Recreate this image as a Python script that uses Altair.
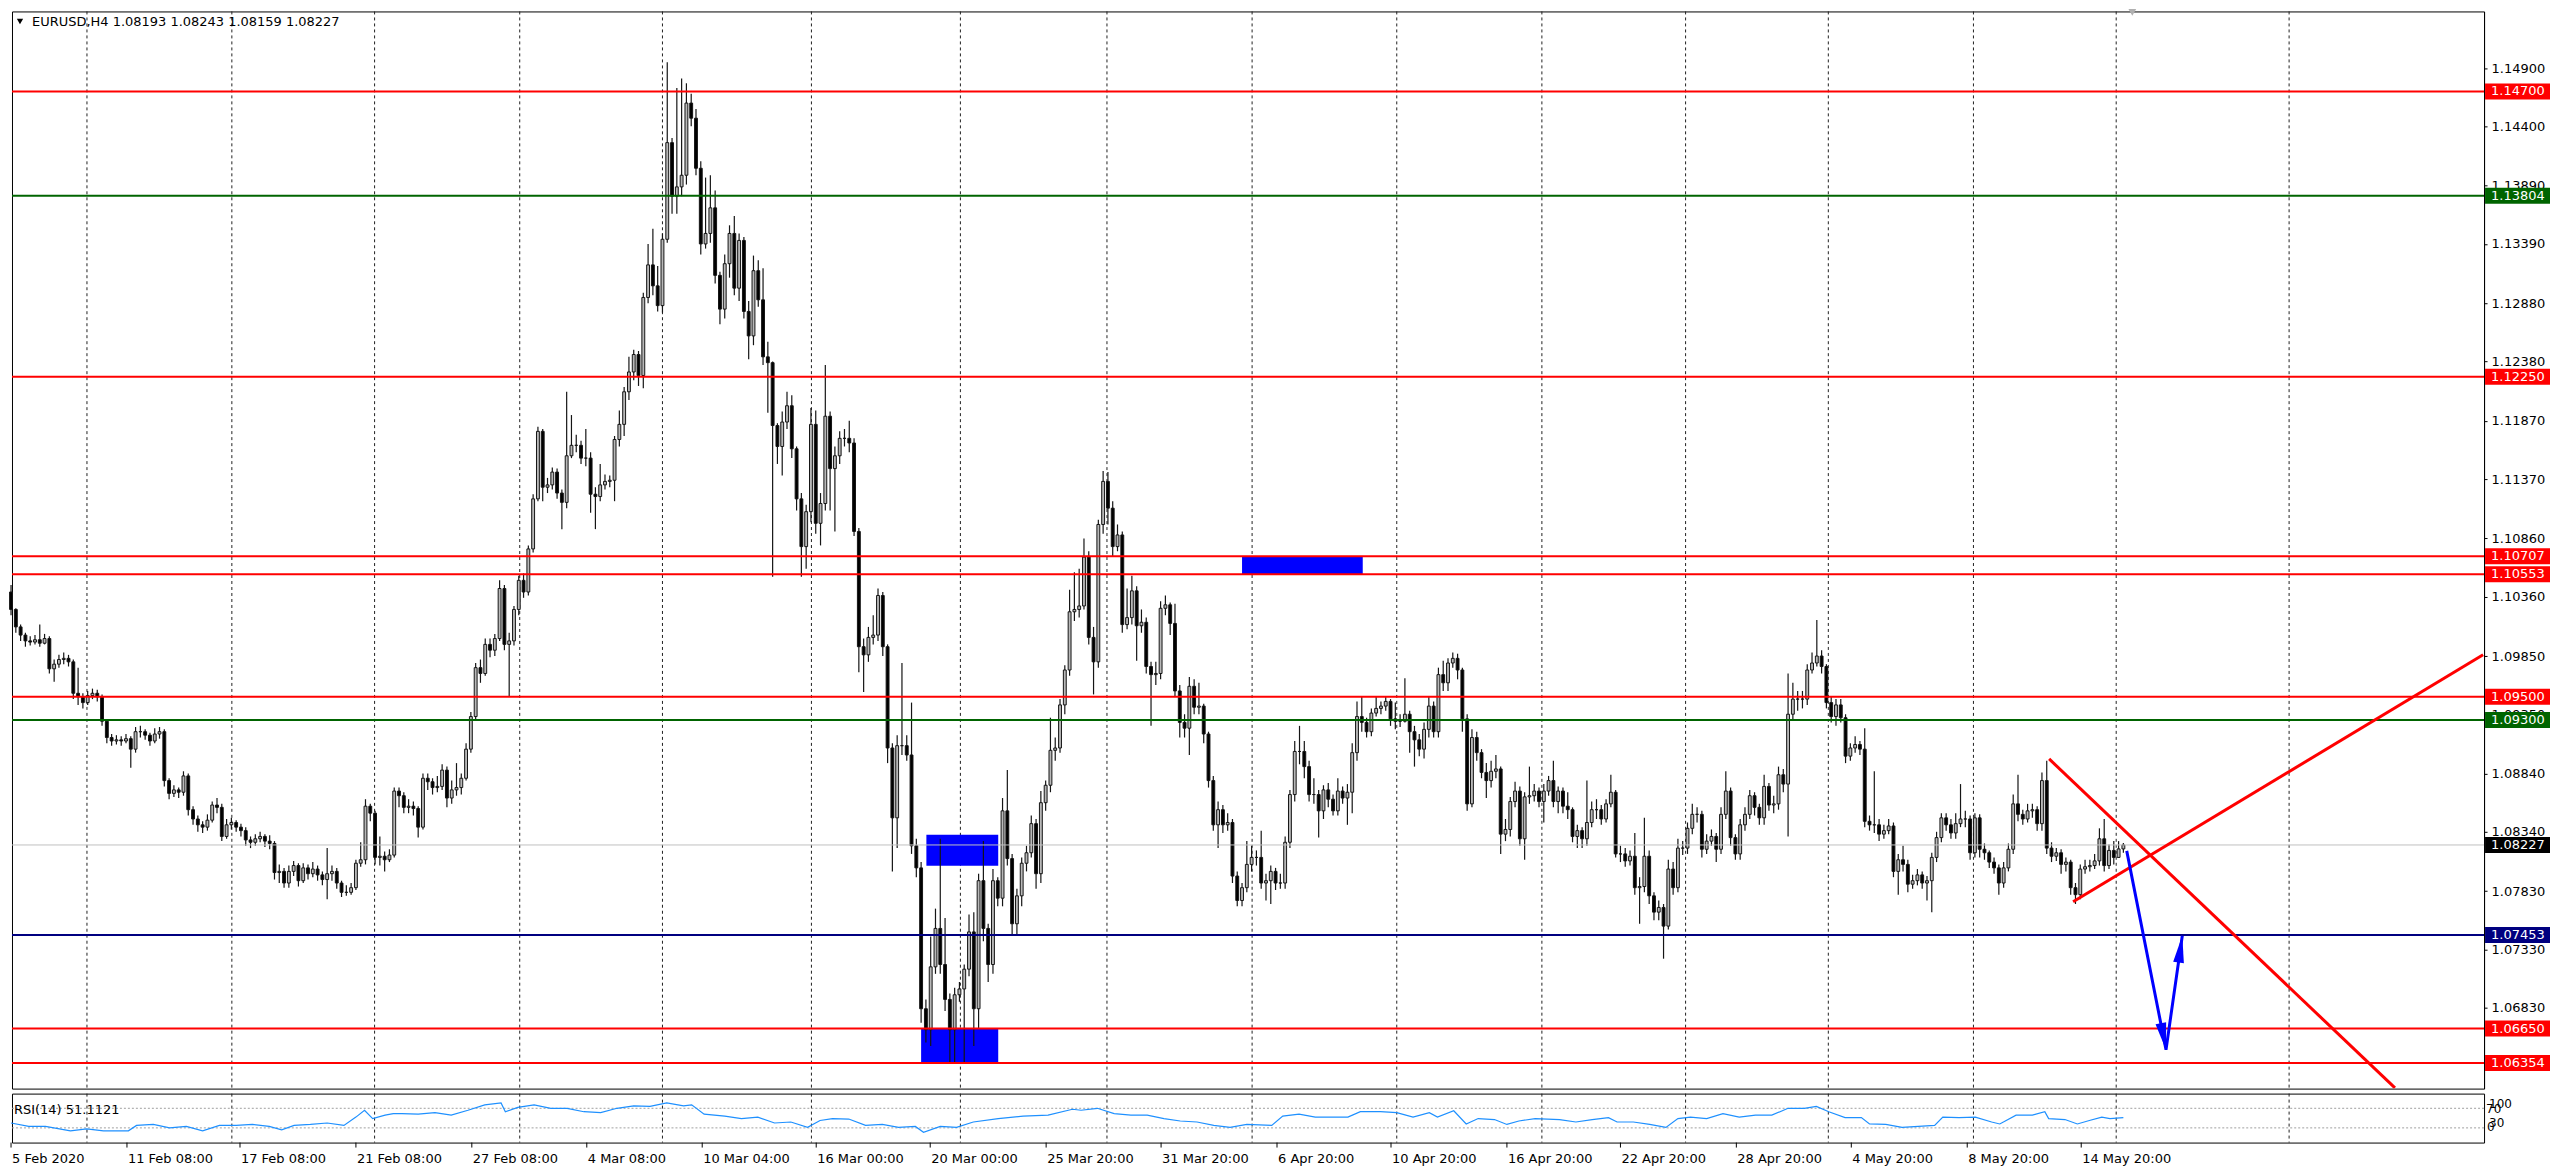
import altair as alt
import pandas as pd

FONT = "DejaVu Sans"
SYMBOL = "EURUSD"
TIMEFRAME = "H4"

# ---------------- data (prices in 1/10000 units, H4 bars) ----------------
first_open = 11040
closes = [
    11025, 11010, 11003, 10998, 10997, 10999, 10996, 11000, 10974, 10978,
    10982, 10983, 10980, 10953, 10950, 10945, 10951, 10953, 10950, 10929,
    10915, 10912, 10913, 10912, 10914, 10905, 10920, 10920, 10917, 10912,
    10918, 10920, 10878, 10867, 10870, 10868, 10882, 10853, 10845, 10840,
    10838, 10844, 10857, 10855, 10830, 10840, 10842, 10838, 10835, 10827,
    10825, 10828, 10830, 10826, 10824, 10799, 10800, 10790, 10800, 10805,
    10792, 10803, 10798, 10802, 10797, 10793, 10798, 10800, 10790, 10782,
    10782, 10786, 10807, 10810, 10856, 10850, 10812, 10813, 10810, 10814,
    10869, 10865, 10855, 10856, 10854, 10838, 10880, 10877, 10872, 10873,
    10887, 10863, 10870, 10872, 10880, 10905, 10933, 10975, 10970, 10995,
    10990, 11000, 11043, 10995, 10998, 11025, 11050, 11040, 11077, 11120,
    11178, 11130, 11132, 11143, 11125, 11117, 11157, 11166, 11166, 11155,
    11155, 11124, 11122, 11132, 11135, 11136, 11171, 11184, 11212, 11229,
    11244, 11226, 11293, 11321, 11303, 11286, 11343, 11426, 11380, 11388,
    11398, 11460, 11447, 11404, 11339, 11348, 11370, 11312, 11283, 11322,
    11348, 11301, 11342, 11281, 11260, 11316, 11291, 11242, 11237, 11183,
    11165, 11186, 11200, 11163, 11120, 11079, 11109, 11184, 11099, 11116,
    11191, 11146, 11157, 11172, 11172, 11168, 11092, 10993, 10986, 11001,
    11003, 11037, 10993, 10906, 10846, 10908, 10908, 10900, 10822, 10803,
    10682, 10664, 10718, 10751, 10720, 10690, 10664, 10694, 10699, 10716,
    10748, 10682, 10792, 10751, 10720, 10792, 10777, 10852, 10811, 10755,
    10779, 10807, 10816, 10841, 10798, 10859, 10874, 10904, 10906, 10943,
    10973, 11023, 11025, 11028, 11070, 11001, 10980, 11098, 11135, 11112,
    11079, 11089, 11012, 11018, 11041, 11011, 11014, 10976, 10969, 10970,
    11026, 11029, 11013, 10955, 10928, 10923, 10959, 10941, 10942, 10918,
    10878, 10840, 10853, 10840, 10842, 10796, 10775, 10786, 10806, 10812,
    10812, 10790, 10792, 10800, 10790, 10790, 10825, 10866, 10903, 10903,
    10890, 10866, 10866, 10852, 10870, 10862, 10852, 10869, 10863, 10868,
    10902, 10933, 10928, 10920, 10936, 10940, 10942, 10946, 10931, 10929,
    10929, 10935, 10920, 10913, 10905, 10922, 10942, 10920, 10969, 10962,
    10979, 10983, 10973, 10931, 10858, 10915, 10902, 10885, 10878, 10886,
    10888, 10832, 10836, 10860, 10869, 10828, 10864, 10865, 10869, 10860,
    10869, 10878, 10860, 10869, 10856, 10853, 10830, 10835, 10828, 10842,
    10853, 10853, 10845, 10858, 10868, 10815, 10815, 10809, 10813, 10786,
    10787, 10813, 10779, 10765, 10769, 10753, 10802, 10786, 10820, 10820,
    10837, 10849, 10849, 10819, 10826, 10830, 10819, 10849, 10869, 10829,
    10815, 10840, 10849, 10865, 10855, 10846, 10873, 10857, 10858, 10883,
    10875, 10935, 10948, 10948, 10948, 10973, 10979, 10985, 10976, 10945,
    10933, 10943, 10932, 10899, 10906, 10909, 10905, 10843, 10840, 10840,
    10832, 10835, 10839, 10800, 10810, 10806, 10789, 10792, 10797, 10790,
    10792, 10812, 10829, 10846, 10840, 10833, 10841, 10845, 10845, 10816,
    10846, 10819, 10816, 10808, 10803, 10790, 10803, 10819, 10858, 10849,
    10845, 10852, 10853, 10841, 10878, 10820, 10813, 10816, 10806, 10808,
    10786, 10780, 10802, 10804, 10805, 10809, 10828, 10805, 10818, 10812,
    10819.3, 10822.7,
]
highs = [
    11046, 11026, 11012, 11005, 11002, 11003, 11012, 11004, 11002, 10982,
    10986, 10988, 10986, 10982, 10975, 10953, 10955, 10957, 10956, 10952,
    10930, 10918, 10917, 10916, 10918, 10916, 10924, 10925, 10922, 10919,
    10923, 10924, 10922, 10880, 10874, 10872, 10886, 10884, 10856, 10848,
    10843, 10849, 10860, 10863, 10858, 10845, 10846, 10844, 10841, 10838,
    10830, 10832, 10834, 10832, 10831, 10826, 10806, 10803, 10805, 10809,
    10807, 10807, 10806, 10808, 10805, 10800, 10820, 10805, 10803, 10792,
    10788, 10790, 10810, 10825, 10862, 10858, 10852, 10830, 10817, 10819,
    10872, 10872, 10868, 10862, 10860, 10856, 10884, 10884, 10880, 10882,
    10892, 10890, 10878, 10893, 10884, 10910, 10937, 10979, 10982, 11000,
    11000, 11004, 11050, 11046, 11005, 11028, 11054, 11056, 11080, 11124,
    11182, 11180, 11138, 11147, 11146, 11128, 11212, 11192, 11175, 11170,
    11180, 11160, 11130, 11150, 11141, 11140, 11174, 11196, 11216, 11242,
    11248, 11247, 11297, 11339, 11352, 11320, 11348, 11495, 11430, 11473,
    11481, 11477, 11468, 11455, 11410, 11396, 11398, 11385, 11315, 11330,
    11355, 11363, 11348, 11345, 11290, 11329, 11325, 11318, 11255, 11238,
    11185, 11195, 11212, 11209, 11165, 11125, 11115, 11198, 11196, 11125,
    11235, 11195, 11165, 11178, 11180, 11187, 11172, 11095, 11000, 11010,
    11020, 11043, 11040, 10995, 10910, 10917, 10979, 10917, 10945, 10828,
    10808, 10690, 10744, 10768, 10828, 10760, 10695, 10700, 10705, 10720,
    10763, 10765, 10798, 10826, 10755, 10802, 10795, 10863, 10887, 10815,
    10785, 10812, 10822, 10848, 10845, 10869, 10878, 10932, 10915, 10948,
    10977, 11042, 11057, 11060, 11086, 11075, 11010, 11102, 11144, 11143,
    11118, 11098, 11092, 11043, 11054, 11045, 11025, 11018, 10980, 10980,
    11032, 11037, 11031, 11030, 10960, 10935, 10967, 10965, 10962, 10944,
    10920, 10882, 10860, 10857, 10850, 10845, 10800, 10790, 10826, 10822,
    10818, 10835, 10798, 10805, 10803, 10798, 10830, 10870, 10912, 10925,
    10912, 10895, 10880, 10870, 10874, 10876, 10866, 10880, 10873, 10875,
    10910, 10946, 10950, 10932, 10940, 10950, 10946, 10950, 10948, 10945,
    10935, 10966, 10938, 10925, 10918, 10928, 10950, 10946, 10975, 10981,
    10983, 10988, 10987, 10975, 10935, 10922, 10920, 10905, 10893, 10895,
    10900, 10890, 10845, 10864, 10877, 10873, 10868, 10890, 10875, 10872,
    10875, 10882, 10895, 10873, 10872, 10868, 10855, 10840, 10838, 10878,
    10860, 10862, 10857, 10862, 10883, 10870, 10822, 10820, 10818, 10833,
    10795, 10846, 10818, 10782, 10775, 10772, 10810, 10808, 10828, 10826,
    10842, 10858, 10855, 10852, 10832, 10836, 10833, 10855, 10886, 10872,
    10832, 10845, 10855, 10870, 10868, 10858, 10883, 10876, 10865, 10890,
    10888, 10970, 10962, 10955, 10955, 10978, 10988, 11016, 10990, 10978,
    10950, 10948, 10948, 10935, 10910, 10916, 10912, 10923, 10848, 10886,
    10845, 10840, 10845, 10842, 10815, 10822, 10810, 10797, 10802, 10800,
    10796, 10816, 10834, 10850, 10850, 10845, 10850, 10875, 10852, 10848,
    10850, 10849, 10824, 10818, 10812, 10806, 10808, 10824, 10866, 10883,
    10853, 10858, 10858, 10856, 10885, 10895, 10825, 10820, 10819, 10812,
    10810, 10790, 10806, 10810, 10810, 10815, 10837, 10845, 10823, 10826,
    10826, 10824.3,
]
lows = [
    11020, 11005, 10998, 10993, 10994, 10995, 10993, 10995, 10970, 10963,
    10975, 10978, 10976, 10948, 10943, 10940, 10943, 10948, 10946, 10925,
    10910, 10908, 10909, 10908, 10910, 10889, 10902, 10915, 10913, 10908,
    10910, 10914, 10873, 10862, 10864, 10863, 10865, 10848, 10840, 10834,
    10833, 10835, 10842, 10850, 10826, 10828, 10836, 10834, 10830, 10822,
    10820, 10822, 10825, 10821, 10819, 10793, 10790, 10786, 10786, 10796,
    10787, 10790, 10793, 10795, 10792, 10788, 10776, 10792, 10785, 10778,
    10779, 10780, 10784, 10804, 10806, 10843, 10806, 10805, 10800, 10808,
    10812, 10855, 10850, 10850, 10848, 10829, 10836, 10870, 10866, 10868,
    10870, 10855, 10858, 10865, 10866, 10878, 10902, 10930, 10962, 10968,
    10984, 10985, 10998, 10990, 10950, 10994, 11020, 11035, 11037, 11074,
    11118, 11118, 11125, 11128, 11120, 11094, 11112, 11155, 11160, 11150,
    11148, 11108, 11094, 11118, 11128, 11130, 11118, 11165, 11174, 11205,
    11222, 11217, 11215, 11288, 11295, 11281, 11280, 11340, 11365, 11365,
    11380, 11390, 11440, 11398, 11330, 11335, 11340, 11305, 11270, 11275,
    11310, 11295, 11290, 11275, 11240, 11252, 11285, 11235, 11194, 11053,
    11150, 11140, 11180, 11155, 11110, 11053, 11060, 11100, 11090, 11080,
    11110, 11110, 11092, 11150, 11165, 11160, 11088, 10971, 10954, 10980,
    10995, 10998, 10985, 10893, 10800, 10820, 10900, 10895, 10815, 10795,
    10670, 10653, 10650, 10712, 10712, 10680, 10636, 10636, 10688, 10636,
    10710, 10650, 10665, 10740, 10705, 10712, 10770, 10770, 10805, 10745,
    10746, 10770, 10800, 10812, 10785, 10790, 10852, 10868, 10895, 10902,
    10935, 10968, 11015, 11018, 11025, 10995, 10952, 10975, 11090, 11098,
    11070, 11075, 11005, 11008, 11012, 10981, 11005, 10970, 10925, 10960,
    10965, 11020, 11003, 10950, 10915, 10915, 10900, 10935, 10935, 10910,
    10872, 10835, 10820, 10833, 10835, 10790, 10770, 10770, 10782, 10800,
    10805, 10785, 10775, 10772, 10784, 10785, 10785, 10820, 10860, 10892,
    10880, 10860, 10858, 10829, 10845, 10855, 10848, 10848, 10858, 10840,
    10850, 10895, 10920, 10915, 10916, 10933, 10935, 10938, 10925, 10922,
    10924, 10928, 10902, 10890, 10899, 10897, 10915, 10915, 10915, 10955,
    10955, 10975, 10965, 10920, 10852, 10855, 10895, 10880, 10863, 10872,
    10880, 10815, 10826, 10830, 10855, 10822, 10810, 10858, 10860, 10855,
    10842, 10865, 10855, 10850, 10850, 10845, 10825, 10820, 10820, 10822,
    10838, 10845, 10840, 10842, 10855, 10812, 10808, 10804, 10805, 10780,
    10755, 10782, 10772, 10758, 10758, 10725, 10750, 10780, 10782, 10814,
    10815, 10832, 10842, 10812, 10815, 10822, 10808, 10815, 10845, 10822,
    10810, 10810, 10835, 10845, 10848, 10840, 10840, 10852, 10850, 10853,
    10868, 10830, 10930, 10938, 10940, 10943, 10970, 10976, 10970, 10940,
    10928, 10925, 10928, 10893, 10895, 10902, 10900, 10838, 10835, 10833,
    10826, 10828, 10832, 10795, 10780, 10800, 10782, 10785, 10788, 10785,
    10775, 10765, 10808, 10825, 10835, 10828, 10828, 10838, 10838, 10810,
    10812, 10812, 10810, 10803, 10798, 10780, 10786, 10800, 10815, 10843,
    10840, 10842, 10846, 10835, 10835, 10815, 10808, 10809, 10798, 10800,
    10780, 10772, 10776, 10798, 10800, 10802, 10805, 10800, 10802, 10806,
    10812, 10815.9,
]

# price axis ticks (as printed by the terminal)
tick_values = [1.14900, 1.14400, 1.13890, 1.13390, 1.12880, 1.12380, 1.11870,
               1.11370, 1.10860, 1.10360, 1.09850, 1.09350, 1.08840, 1.08340,
               1.07830, 1.07330, 1.06830]

# horizontal levels
level_prices = [1.14700, 1.13804, 1.12250, 1.10707, 1.10553, 1.09500,
                1.09300, 1.08227, 1.07453, 1.06650, 1.06354]
level_colors = ["#FF0000", "#006400", "#FF0000", "#FF0000", "#FF0000", "#FF0000",
                "#006400", "#C0C0C0", "#000080", "#FF0000", "#FF0000"]
level_widths = [2, 2, 2, 2, 2, 2, 2, 1, 2, 2, 2]
level_box_colors = ["#FF0000", "#006400", "#FF0000", "#FF0000", "#FF0000", "#FF0000",
                    "#006400", "#000000", "#000080", "#FF0000", "#FF0000"]

# blue zones (bar index range, price range)
zone_i1 = [257.0, 191.1, 190.0]
zone_i2 = [282.2, 206.1, 206.1]
zone_p1 = [1.10553, 1.08048, 1.06354]
zone_p2 = [1.10707, 1.08314, 1.06650]

# red trend lines
trend_seg = ["down", "down", "up", "up"]
trend_i = [425.5, 497.7, 430.5, 516.1]
trend_p = [1.08966, 1.06140, 1.07739, 1.09861]

# blue forecast arrow
arrow_i = [441.7, 449.9, 453.3]
arrow_p = [1.08176, 1.06468, 1.07447]

# vertical grid (bar index) and time labels
grid_idx = [15.85, 46.1, 75.9, 106.2, 136.0, 167.1, 198.2, 228.8, 259.1,
            289.3, 319.6, 349.6, 379.4, 409.7, 439.5, 475.6]
time_label_idx = [0, 24.2, 47.8, 72.0, 96.2, 120.2, 144.3, 168.1, 191.9, 216.1,
                  240.1, 264.3, 288.1, 312.3, 336.0, 360.2, 384.2, 408.4, 432.2]
time_labels = ["5 Feb 2020", "11 Feb 08:00", "17 Feb 08:00", "21 Feb 08:00",
               "27 Feb 08:00", "4 Mar 08:00", "10 Mar 04:00", "16 Mar 00:00",
               "20 Mar 00:00", "25 Mar 20:00", "31 Mar 20:00", "6 Apr 20:00",
               "10 Apr 20:00", "16 Apr 20:00", "22 Apr 20:00", "28 Apr 20:00",
               "4 May 20:00", "8 May 20:00", "14 May 20:00"]

# RSI(14)
rsi_idx = [0, 3.7, 7.2, 12.4, 15.8, 19.3, 24.5, 26.2, 29.7, 33.1,
           36.6, 40.0, 43.5, 47.0, 50.4, 53.9, 56.5, 59.1, 62.5, 66.0,
           69.5, 72.0, 73.8, 75.5, 78.1, 79.8, 81.6, 85.0, 88.5, 91.9,
           95.4, 98.9, 102.3, 103.2, 105.8, 109.2, 112.7, 116.1, 119.6, 123.1,
           126.5, 130.0, 133.4, 136.9, 140.4, 142.1, 144.7, 149.0, 152.5, 155.9,
           159.4, 162.8, 166.3, 168.9, 171.5, 174.9, 178.4, 181.9, 185.3, 188.8,
           190.5, 194.0, 197.4, 200.9, 206.1, 211.3, 216.5, 221.6, 223.4, 226.8,
           230.3, 233.8, 237.2, 240.7, 244.1, 247.6, 251.1, 254.5, 258.0, 263.2,
           265.5, 268.9, 272.3, 275.7, 279.1, 281.7, 285.9, 289.3, 292.7, 296.1,
           297.8, 301.2, 303.8, 306.3, 309.7, 312.3, 314.8, 318.2, 323.3, 326.7,
           330.1, 333.5, 335.3, 338.7, 342.1, 345.5, 348.0, 350.6, 354.0, 357.4,
           360.8, 364.2, 367.6, 371.0, 374.4, 376.9, 379.5, 382.9, 386.3, 388.0,
           391.4, 394.8, 398.2, 401.6, 403.3, 406.7, 410.1, 413.5, 415.2, 418.6,
           422.0, 424.6, 425.4, 428.8, 431.4, 433.9, 436.5, 438.2, 441.0]
rsi_val = [40, 33, 33, 24, 28, 24, 24, 35, 37, 30,
           33, 24, 35, 35, 37, 33, 26, 35, 37, 40,
           35, 52, 66, 49, 56, 59, 59, 58, 61, 56,
           66, 77, 81, 63, 72, 77, 70, 70, 63, 61,
           70, 75, 74, 81, 75, 77, 58, 54, 49, 52,
           40, 42, 31, 45, 49, 48, 35, 37, 31, 33,
           21, 33, 31, 42, 49, 54, 56, 68, 66, 70,
           59, 56, 56, 49, 44, 42, 35, 31, 37, 35,
           54, 58, 52, 52, 52, 63, 63, 61, 52, 61,
           52, 65, 38, 49, 47, 37, 44, 49, 47, 42,
           47, 51, 42, 42, 37, 31, 49, 52, 49, 59,
           52, 56, 56, 70, 70, 74, 63, 51, 51, 38,
           37, 31, 33, 35, 52, 51, 52, 42, 38, 56,
           56, 63, 49, 47, 38, 45, 52, 49, 51.1121]
rsi_levels = [70, 30]

# ---------------- tables ----------------
n = len(closes)
opens = [first_open] + closes[:-1]  # each bar opens at the previous close
candles = pd.DataFrame({
    "i": list(range(n)),
    "o": [v / 10000 for v in opens],
    "h": [v / 10000 for v in highs],
    "l": [v / 10000 for v in lows],
    "c": [v / 10000 for v in closes],
})
levels = pd.DataFrame({"p": level_prices, "col": level_colors, "w": level_widths,
                       "bc": level_box_colors,
                       "lbl": [f"{p:.5f}" for p in level_prices]})
zones = pd.DataFrame({"x1": zone_i1, "x2": zone_i2, "p1": zone_p1, "p2": zone_p2})
trends = pd.DataFrame({"seg": trend_seg, "i": trend_i, "p": trend_p})
arrow = pd.DataFrame({"k": [0, 1, 2], "i": arrow_i, "p": arrow_p})
grid = pd.DataFrame({"g": grid_idx})
tl = pd.DataFrame({"i": time_label_idx, "t": time_labels})
rsi = pd.DataFrame({"i": rsi_idx, "v": rsi_val})

last_o, last_h, last_l, last_c = opens[-1] / 1e4, highs[-1] / 1e4, lows[-1] / 1e4, closes[-1] / 1e4
title_txt = f"{SYMBOL},{TIMEFRAME}  {last_o:.5f} {last_h:.5f} {last_l:.5f} {last_c:.5f}"
one = pd.DataFrame({"t": [title_txt]})

# ---------------- scales / helpers ----------------
W, H, RH = 2474, 1078, 49
xs = alt.Scale(domain=[0.2, 516.3], nice=False, zero=False)
ys = alt.Scale(domain=[1.06134, 1.15387], nice=False, zero=False)
rys = alt.Scale(domain=[0, 100], nice=False, zero=False)
yaxis = alt.Axis(orient="right", values=tick_values, format=".5f", title=None,
                 grid=False, labelFont=FONT, labelFontSize=13, labelColor="black",
                 tickColor="black", tickSize=3, labelPadding=4, domainColor="black",
                 labelFlush=False, labelOverlap=False, labelBaseline="middle")


def X(f):
    return alt.X(f, type="quantitative", scale=xs, axis=None)


def Y(f):
    return alt.Y(f, type="quantitative", scale=ys, axis=yaxis)


def RY(f):
    return alt.Y(f, type="quantitative", scale=rys, axis=None)


def grid_layer():
    return alt.Chart(grid).mark_rule(color="#202020", strokeDash=[3, 3], strokeWidth=1).encode(x=X("g"))


# ---------------- main panel ----------------
zone_l = alt.Chart(zones).mark_rect(color="#0000FF", opacity=1).encode(
    x=X("x1"), x2="x2", y=Y("p1"), y2="p2")
wick_l = alt.Chart(candles).mark_rule(color="#151515", strokeWidth=1.2).encode(
    x=X("i"), y=Y("l"), y2="h")
body_l = alt.Chart(candles).transform_calculate(
    xl="datum.i - 0.3", xr="datum.i + 0.3",
    fc="datum.c >= datum.o ? '#B8B8B8' : '#000000'"
).mark_rect(stroke="#151515", strokeWidth=1).encode(
    x=X("xl"), x2="xr", y=Y("o"), y2="c", fill=alt.Fill("fc:N", scale=None))
level_l = alt.Chart(levels).mark_rule().encode(
    y=Y("p"), color=alt.Color("col:N", scale=None), size=alt.Size("w:Q", scale=None))
trend_l = alt.Chart(trends).mark_line(color="#FF0000", strokeWidth=3, clip=True).encode(
    x=X("i"), y=Y("p"), detail="seg:N")
arrow_l = alt.Chart(arrow).mark_line(color="#0000FF", strokeWidth=3).encode(
    x=X("i"), y=Y("p"), order="k:Q")
head_down = alt.Chart(arrow.iloc[[1]]).mark_point(
    shape="M0,0L-0.4,-2L0.4,-2Z", size=729, angle=349, filled=True,
    color="#0000FF", opacity=1, strokeWidth=0).encode(x=X("i"), y=Y("p"))
head_up = alt.Chart(arrow.iloc[[2]]).mark_point(
    shape="M0,0L-0.4,2L0.4,2Z", size=729, angle=8, filled=True,
    color="#0000FF", opacity=1, strokeWidth=0).encode(x=X("i"), y=Y("p"))
box_l = alt.Chart(levels).mark_rect(yOffset=-8, y2Offset=8).encode(
    x=alt.value(W + 1), x2=alt.value(W + 66), y=Y("p"), y2="p",
    color=alt.Color("bc:N", scale=None))
box_t = alt.Chart(levels).mark_text(align="left", baseline="middle", font=FONT,
                                    fontSize=13, color="white").encode(
    x=alt.value(W + 7), y=Y("p"), text="lbl:N")
title_l = alt.Chart(one).mark_text(align="left", baseline="middle", font=FONT,
                                   fontSize=13, color="black").encode(
    x=alt.value(20), y=alt.value(11), text="t:N")
tri_l = alt.Chart(one).mark_point(shape="triangle-down", size=40, filled=True,
                                  color="black", opacity=1).encode(
    x=alt.value(8), y=alt.value(10))
shift_l = alt.Chart(one).mark_point(shape="triangle-down", size=60, filled=True,
                                    color="#B0B0B0", opacity=1).encode(
    x=alt.value(2122), y=alt.value(1))

main = alt.layer(grid_layer(), zone_l, wick_l, body_l, level_l, trend_l, arrow_l,
                 head_down, head_up, box_l, box_t, title_l, tri_l, shift_l
                 ).properties(width=W, height=H)

# ---------------- RSI panel ----------------
rlev_l = alt.Chart(pd.DataFrame({"v": rsi_levels})).mark_rule(
    color="#A0A0A0", strokeDash=[2, 2], strokeWidth=1).encode(y=RY("v"))
rline_l = alt.Chart(rsi).mark_line(color="#1E90FF", strokeWidth=1.2).encode(
    x=X("i"), y=RY("v"))
rtitle_l = alt.Chart(pd.DataFrame({"t": [f"RSI(14) {rsi_val[-1]:.4f}"]})).mark_text(
    align="left", baseline="middle", font=FONT, fontSize=13, color="black").encode(
    x=alt.value(2), y=alt.value(16), text="t:N")
rsi_axis_txt = [("100", W + 5, 10), ("70", W + 2, 15), ("30", W + 5, 29), ("0", W + 3, 33)]
rax_layers = [
    alt.Chart(pd.DataFrame({"t": [t]})).mark_text(
        align="left", baseline="middle", font=FONT, fontSize=12, color="black").encode(
        x=alt.value(xp), y=alt.value(yp), text="t:N")
    for t, xp, yp in rsi_axis_txt
]
tlab_l = alt.Chart(tl).mark_text(align="left", baseline="middle", font=FONT,
                                 fontSize=13, color="black", dx=1).encode(
    x=X("i"), y=alt.value(RH + 16), text="t:N")
ttick_l = alt.Chart(tl).mark_rule(color="black").encode(
    x=X("i"), y=alt.value(RH), y2=alt.value(RH + 5))

rsi_chart = alt.layer(grid_layer(), rlev_l, rline_l, rtitle_l, *rax_layers,
                      tlab_l, ttick_l).properties(width=W, height=RH)

chart = alt.vconcat(main, rsi_chart, spacing=3, padding=0, background="white"
                    ).configure_view(stroke="black", strokeWidth=1)

chart.save("out.html", embed_options={"renderer": "svg", "actions": False})
